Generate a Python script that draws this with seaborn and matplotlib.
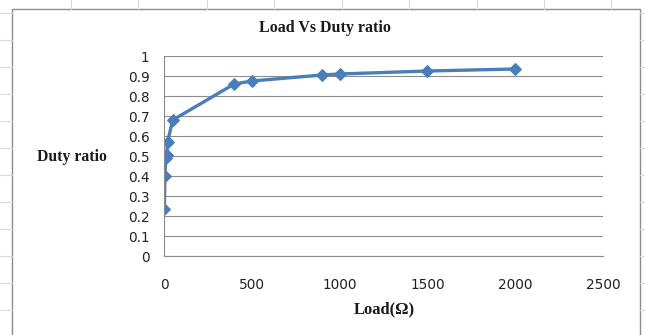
import matplotlib
matplotlib.use("Agg")
import matplotlib.pyplot as plt
import seaborn as sns
import pandas as pd
from matplotlib.patches import Rectangle
from matplotlib.lines import Line2D

load = [2, 5, 10, 15, 20, 50, 400, 500, 900, 1000, 1500, 2000]
duty = [0.235, 0.40, 0.49, 0.505, 0.57, 0.68, 0.86, 0.875, 0.905, 0.91, 0.925, 0.935]
x_ticks = [0, 500, 1000, 1500, 2000, 2500]
y_ticks = [0, 0.1, 0.2, 0.3, 0.4, 0.5, 0.6, 0.7, 0.8, 0.9, 1]
y_tick_labels = ["0", "0.1", "0.2", "0.3", "0.4", "0.5", "0.6", "0.7", "0.8", "0.9", "1"]

sns.set_theme(style="white")
plt.rcParams['font.family'] = ['DejaVu Sans']

df = pd.DataFrame({"Load": load, "Duty": duty})

W, H = 645, 335
fig = plt.figure(figsize=(W / 100, H / 100), dpi=100)
fig.patch.set_facecolor("white")

# spreadsheet cell lines in the background
cell = "#d9d9d9"
for xv in [71, 138, 207, 274, 342, 409, 477, 544, 611]:
    fig.add_artist(Line2D([xv / W, xv / W], [1, 1 - 9 / H], color=cell, lw=0.8))
for yv in [13, 40, 67, 94, 121, 148, 175, 202, 229, 256, 283, 310]:
    fig.add_artist(Line2D([0, 12 / W], [1 - yv / H, 1 - yv / H], color=cell, lw=0.8))
    fig.add_artist(Line2D([640 / W, 1], [1 - yv / H, 1 - yv / H], color=cell, lw=0.8))

# chart area border
fig.add_artist(Rectangle((12 / W, -0.05), (640 - 12) / W, 1.05 - 9 / H,
                         transform=fig.transFigure, fill=True, facecolor="white",
                         edgecolor="#8c8c8c", lw=1.0, zorder=0))

ax = fig.add_axes([164 / W, 1 - 256 / H, (603 - 164) / W, 200 / H])
ax.set_facecolor("none")

sns.lineplot(data=df, x="Load", y="Duty", ax=ax, color="#4a7ebb", lw=2.4,
             marker="D", markersize=6.5, markeredgecolor="#4a7ebb", sort=False)

ax.set_xlim(0, 2500)
ax.set_ylim(0, 1)
ax.set_xticks(x_ticks)
ax.set_yticks(y_ticks)
ax.set_yticklabels(y_tick_labels)
ax.tick_params(axis="both", labelsize=9.8, colors="#222222", length=7,
               direction="inout", width=0.8, pad=7)
ax.tick_params(axis="x", pad=12)
ax.grid(axis="y", color="#8c8c8c", lw=0.8)
ax.grid(axis="x", visible=False)
for s in ["top", "right"]:
    ax.spines[s].set_visible(False)
for s in ["left", "bottom"]:
    ax.spines[s].set_color("#8c8c8c")
    ax.spines[s].set_linewidth(0.8)

ax.set_xlabel("")
ax.set_ylabel("")
serif = ["Liberation Serif", "DejaVu Serif"]
fig.text(325 / W, 1 - 28 / H, "Load Vs Duty ratio", ha="center", va="center",
         fontsize=11.5, fontweight="bold", family=serif, color="#1a1a1a")
fig.text(72 / W, 1 - 157 / H, "Duty ratio", ha="center", va="center",
         fontsize=11.3, fontweight="bold", family=serif, color="#1a1a1a")
fig.text(384 / W, 1 - 309 / H, "Load(Ω)", ha="center", va="center",
         fontsize=12, fontweight="bold", family=serif, color="#1a1a1a")

fig.savefig("out.png", dpi=100)
